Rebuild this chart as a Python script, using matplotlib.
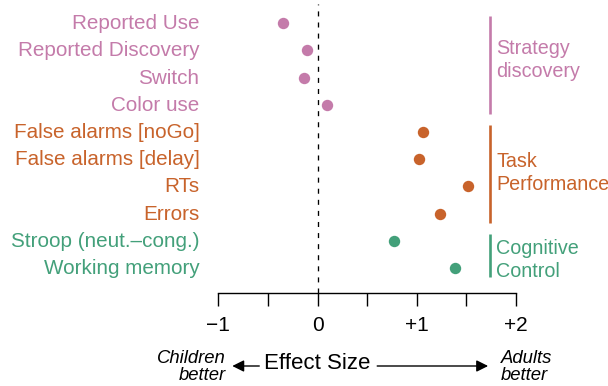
import matplotlib
matplotlib.use("Agg")
import matplotlib.pyplot as plt
from matplotlib.ticker import FixedLocator

plt.rcParams['font.family'] = ['Liberation Sans', 'DejaVu Sans']

labels = ["Reported Use", "Reported Discovery", "Switch", "Color use",
          "False alarms [noGo]", "False alarms [delay]", "RTs", "Errors",
          "Stroop (neut.\u2013cong.)", "Working memory"]
effects = [-0.35, -0.11, -0.14, 0.10, 1.06, 1.02, 1.52, 1.23, 0.77, 1.39]
groups = ["strategy"] * 4 + ["task"] * 4 + ["control"] * 2
group_keys = ["strategy", "task", "control"]
group_lines = [["Strategy", "discovery"], ["Task", "Performance"], ["Cognitive", "Control"]]
colors = {"strategy": "#C47BAA", "task": "#C8632B", "control": "#43A07A"}
xticks_major = [-1, 0, 1, 2]
xtick_labels = ["\u22121", "0", "+1", "+2"]
xticks_minor = [-0.5, 0.5, 1.5]

W, H = 608, 386
fig = plt.figure(figsize=(W / 100, H / 100), dpi=100)
ax_left, ax_right, ax_top, ax_bot = 218.3, 516.0, 4.0, 293.0
ax = fig.add_axes([ax_left / W, 1 - ax_bot / H, (ax_right - ax_left) / W, (ax_bot - ax_top) / H])

row0, rowstep = 23.3, 27.2
def row_of(px):
    return (px - row0) / rowstep

ax.set_xlim(-1, 2)
ax.set_ylim(row_of(ax_bot), row_of(ax_top))

rows = list(range(len(labels)))
for r, e, g in zip(rows, effects, groups):
    ax.plot(e, r, 'o', color=colors[g], markersize=8.2, markeredgewidth=0, clip_on=False, zorder=3)

# dashed zero line
ax.axvline(0, color='black', lw=0.95, ls=(0, (3.8, 4.6)), zorder=1)

# row labels
lab_right = (199.5 - ax_left) / (ax_right - ax_left)
trans_lab = ax.get_yaxis_transform()
for r, lab, g in zip(rows, labels, groups):
    ax.text(lab_right, r + 6.0 / rowstep, lab, color=colors[g], fontsize=14.9,
            ha='right', va='baseline', transform=trans_lab, clip_on=False)
ax.set_yticks([])

# group bars and labels
bar_x = (490 - 317.3) / 99.3
lab_x = (496 - 317.3) / 99.3
first_baselines = [54.0, 166.7, 254.0]
for k, lines, b0 in zip(group_keys, group_lines, first_baselines):
    idx = [i for i, g in enumerate(groups) if g == k]
    ax.plot([bar_x, bar_x], [idx[0] - 0.27, idx[-1] + 0.33], color=colors[k], lw=1.9,
            solid_capstyle='butt', clip_on=False)
    for j, line in enumerate(lines):
        ax.text(lab_x, row_of(b0 + 23.0 * j), line, color=colors[k], fontsize=14.2,
                ha='left', va='baseline', clip_on=False)

# x axis
for s in ['top', 'right', 'left']:
    ax.spines[s].set_visible(False)
ax.spines['bottom'].set_linewidth(1.0)
ax.xaxis.set_major_locator(FixedLocator(xticks_major))
ax.set_xticklabels(xtick_labels, fontsize=15)
ax.xaxis.set_minor_locator(FixedLocator(xticks_minor))
ax.tick_params(axis='x', which='both', direction='out', length=9.4, width=1.0, pad=7)

# bottom annotation
def fy(px):
    return 1 - px / H
def dx(px):
    return (px - 317.3) / 99.3

fig.text(317.3 / W, fy(369.3), "Effect Size", fontsize=16, ha='center', va='baseline')
arrow_kw = dict(arrowstyle='-|>,head_length=0.5,head_width=0.25', color='black', lw=1.0,
                mutation_scale=14, shrinkA=0, shrinkB=0)
ax.annotate("", xy=(dx(232), fy(366)), xytext=(dx(259), fy(366)),
            xycoords=('data', 'figure fraction'), textcoords=('data', 'figure fraction'),
            arrowprops=arrow_kw)
ax.annotate("", xy=(dx(488), fy(366)), xytext=(dx(377), fy(366)),
            xycoords=('data', 'figure fraction'), textcoords=('data', 'figure fraction'),
            arrowprops=arrow_kw)
fig.text(226 / W, fy(363.3), "Children", fontsize=13.3, style='italic', ha='right', va='baseline')
fig.text(226 / W, fy(380), "better", fontsize=13.3, style='italic', ha='right', va='baseline')
fig.text(501 / W, fy(363.3), "Adults", fontsize=13.3, style='italic', ha='left', va='baseline')
fig.text(501 / W, fy(380), "better", fontsize=13.3, style='italic', ha='left', va='baseline')

fig.savefig("out.png", dpi=100)
